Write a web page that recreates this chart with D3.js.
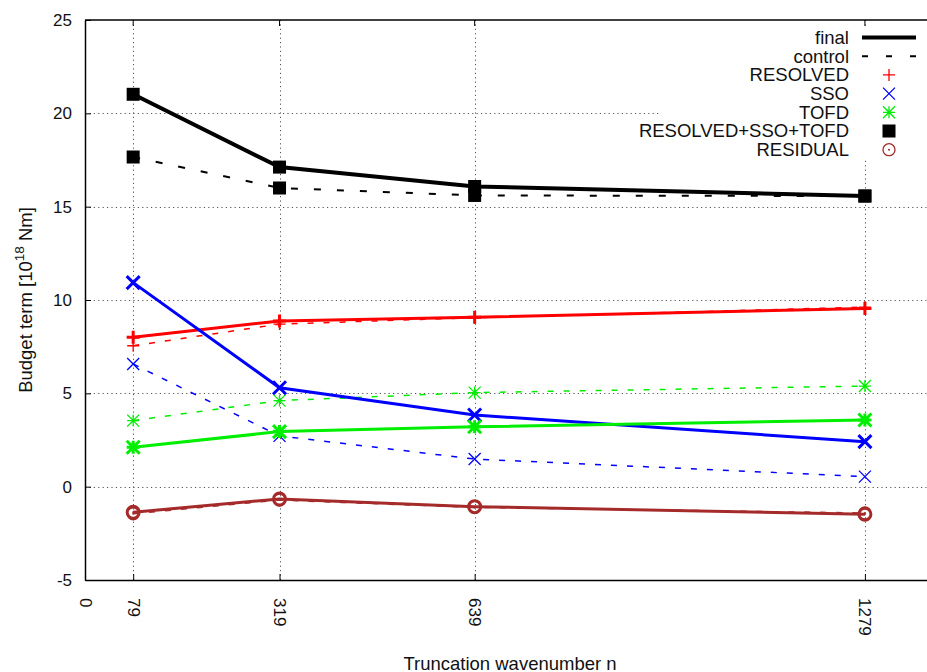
<!DOCTYPE html>
<html>
<head>
<meta charset="utf-8">
<script src="https://cdn.jsdelivr.net/npm/d3@7/dist/d3.min.js"></script>
<style>
  html, body { margin: 0; padding: 0; background: #fff; }
  svg { display: block; font-family: "Liberation Sans", Arial, Helvetica, sans-serif; }
</style>
</head>
<body>
<svg id="chart" width="927" height="672"></svg>
<script>
// Truncation wavenumbers
const truncations = [79, 319, 639, 1279];
const xTickValues = [0, 79, 319, 639, 1279];
const yTickValues = [-5, 0, 5, 10, 15, 20, 25];

// Budget terms [10^18 Nm], final vs control runs
const resolvedFinal   = [8.0, 8.88, 9.08, 9.55];
const resolvedControl = [7.55, 8.71, 9.05, 9.62];
const ssoFinal        = [10.93, 5.30, 3.84, 2.41];
const ssoControl      = [6.57, 2.72, 1.48, 0.54];
const tofdFinal       = [2.11, 2.95, 3.21, 3.57];
const tofdControl     = [3.54, 4.61, 5.04, 5.39];
const sumFinal        = [21.02, 17.12, 16.08, 15.57];
const sumControl      = [17.66, 16.0, 15.6, 15.57];
const residualFinal   = [-1.37, -0.66, -1.07, -1.48];
const residualControl = [-1.45, -0.72, -1.11, -1.41];

const series = [
  { name: "RESOLVED", color: "#ff0000", marker: "plus", final: resolvedFinal, control: resolvedControl },
  { name: "SSO", color: "#0000ff", marker: "cross", final: ssoFinal, control: ssoControl },
  { name: "TOFD", color: "#00ee00", marker: "star", final: tofdFinal, control: tofdControl },
  { name: "RESOLVED+SSO+TOFD", color: "#000000", marker: "square", final: sumFinal, control: sumControl },
  { name: "RESIDUAL", color: "#a52a2a", marker: "circle", final: residualFinal, control: residualControl }
];

const svg = d3.select("#chart");
const plotLeft = 85, plotRight = 926.5, plotTop = 20, plotBottom = 580;
const labelFont = "Liberation Sans, Arial, sans-serif";

const x = d3.scaleLinear().domain([0, 1380]).range([plotLeft, plotRight]);
const y = d3.scaleLinear().domain([-5, 25]).range([plotBottom, plotTop]);

// Grid
const grid = svg.append("g").attr("stroke", "#555").attr("stroke-width", 1)
  .attr("stroke-dasharray", "1.2,3.2").attr("fill", "none");
yTickValues.filter(v => v > -5 && v < 25).forEach(v => {
  grid.append("line").attr("x1", plotLeft).attr("x2", plotRight)
    .attr("y1", Math.round(y(v)) + 0.5).attr("y2", Math.round(y(v)) + 0.5);
});
truncations.forEach(v => {
  grid.append("line").attr("x1", Math.round(x(v)) + 0.5).attr("x2", Math.round(x(v)) + 0.5)
    .attr("y1", plotTop).attr("y2", plotBottom);
});

// Axes
const plainNumber = d => String(d);
const yAxis = d3.axisLeft(y).tickValues(yTickValues).tickFormat(plainNumber)
  .tickSize(-6).tickSizeOuter(0).tickPadding(13);
const gy = svg.append("g").attr("transform", `translate(${plotLeft},0)`).call(yAxis);
gy.select(".domain").attr("stroke", "#000").attr("stroke-width", 1.5);
gy.selectAll(".tick line").attr("stroke", "#000");
gy.selectAll("text").attr("font-size", 17).attr("font-family", labelFont).attr("fill", "#111");

const xAxis = d3.axisBottom(x).tickValues(xTickValues).tickFormat(plainNumber)
  .tickSize(-6).tickSizeOuter(0);
const gx = svg.append("g").attr("transform", `translate(0,${plotBottom})`).call(xAxis);
gx.select(".domain").attr("stroke", "#000").attr("stroke-width", 1.5);
gx.selectAll(".tick line").attr("stroke", "#000");
gx.selectAll("text")
  .attr("font-size", 17).attr("font-family", labelFont).attr("fill", "#111")
  .attr("text-anchor", "start").attr("dy", "0.35em")
  .attr("transform", "translate(0,18) rotate(90)")
  .attr("x", 0).attr("y", 0);

// Top frame with ticks
svg.append("line").attr("x1", plotLeft).attr("x2", 927).attr("y1", plotTop).attr("y2", plotTop)
  .attr("stroke", "#000").attr("stroke-width", 1.5);
truncations.forEach(v => {
  svg.append("line").attr("x1", x(v)).attr("x2", x(v)).attr("y1", plotTop).attr("y2", plotTop + 6)
    .attr("stroke", "#000");
});

// Axis titles
svg.append("text").attr("x", 510).attr("y", 670).attr("text-anchor", "middle")
  .attr("font-size", 18.5).attr("fill", "#111").text("Truncation wavenumber n");
const yt = svg.append("text").attr("transform", "translate(32,300) rotate(-90)")
  .attr("text-anchor", "middle").attr("font-size", 18.5).attr("fill", "#111");
yt.append("tspan").text("Budget term [10");
yt.append("tspan").attr("dy", -8).attr("font-size", 13.5).text("18");
yt.append("tspan").attr("dy", 8).text(" Nm]");

// Marker drawing
function marker(g, type, cx, cy, color, w, size) {
  const s = size / 2;
  if (type === "plus") {
    g.append("path").attr("d", `M${cx - s},${cy}H${cx + s}M${cx},${cy - s}V${cy + s}`)
      .attr("stroke", color).attr("stroke-width", w).attr("fill", "none");
  } else if (type === "cross") {
    g.append("path").attr("d", `M${cx - s},${cy - s}L${cx + s},${cy + s}M${cx - s},${cy + s}L${cx + s},${cy - s}`)
      .attr("stroke", color).attr("stroke-width", w).attr("fill", "none");
  } else if (type === "star") {
    g.append("path").attr("d", `M${cx - s},${cy}H${cx + s}M${cx},${cy - s}V${cy + s}` +
      `M${cx - s},${cy - s}L${cx + s},${cy + s}M${cx - s},${cy + s}L${cx + s},${cy - s}`)
      .attr("stroke", color).attr("stroke-width", w).attr("fill", "none");
  } else if (type === "square") {
    g.append("rect").attr("x", cx - 6.5).attr("y", cy - 6.5).attr("width", 13).attr("height", 13)
      .attr("fill", color);
  } else if (type === "circle") {
    g.append("circle").attr("cx", cx).attr("cy", cy).attr("r", 6)
      .attr("stroke", color).attr("stroke-width", w).attr("fill", "none");
    g.append("circle").attr("cx", cx).attr("cy", cy).attr("r", 1)
      .attr("fill", color);
  }
}

const line = d3.line().x((d, i) => x(truncations[i])).y(d => y(d));
const plot = svg.append("g");

// Control runs (dashed)
series.forEach(s => {
  const isSum = s.marker === "square";
  plot.append("path").datum(s.control).attr("d", line)
    .attr("fill", "none").attr("stroke", s.color)
    .attr("stroke-width", isSum ? 2 : 1.5)
    .attr("stroke-dasharray", isSum ? "7,16" : "6,10");
  s.control.forEach((v, i) => marker(plot, s.marker, x(truncations[i]), y(v), s.color, 1.3, 12));
});

// Final runs (solid)
series.forEach(s => {
  const isSum = s.marker === "square";
  plot.append("path").datum(s.final).attr("d", line)
    .attr("fill", "none").attr("stroke", s.color)
    .attr("stroke-width", isSum ? 4 : 3);
  s.final.forEach((v, i) => marker(plot, s.marker, x(truncations[i]), y(v), s.color, 3, 13));
});

// Legend
const legend = svg.append("g");
legend.append("rect").attr("x", 659).attr("y", 26).attr("width", 268).attr("height", 133).attr("fill", "#fff");
const rowY = i => 37.5 + i * 18.7;
const textX = 849, sampleX1 = 862, sampleX2 = 916;
const entries = [
  { label: "final", kind: "solid" },
  { label: "control", kind: "dashed" },
  ...series.map(s => ({ label: s.name, kind: "marker", s }))
];
entries.forEach((e, i) => {
  const yy = rowY(i);
  legend.append("text").attr("x", textX).attr("y", yy).attr("dy", "0.35em")
    .attr("text-anchor", "end").attr("font-size", 18.5).attr("fill", "#111").text(e.label);
  if (e.kind === "solid") {
    legend.append("line").attr("x1", sampleX1).attr("x2", sampleX2).attr("y1", yy).attr("y2", yy)
      .attr("stroke", "#000").attr("stroke-width", 4);
  } else if (e.kind === "dashed") {
    legend.append("line").attr("x1", sampleX1).attr("x2", sampleX2).attr("y1", yy).attr("y2", yy)
      .attr("stroke", "#000").attr("stroke-width", 2).attr("stroke-dasharray", "6,18");
  } else {
    marker(legend, e.s.marker, 889, yy, e.s.color, 1.3, 12);
  }
});
</script>
</body>
</html>
